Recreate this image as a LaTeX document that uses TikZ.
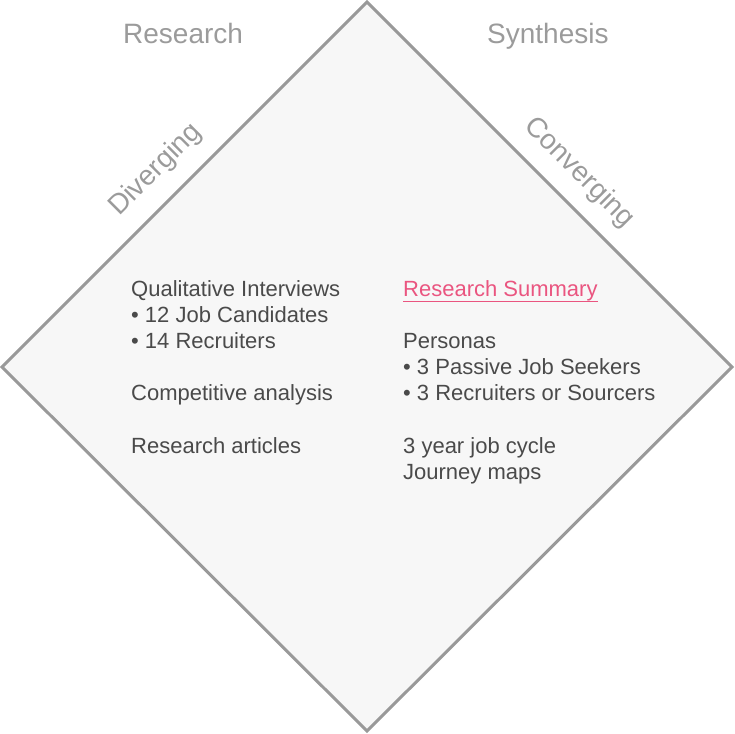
\documentclass[tikz,border=0pt]{standalone}
\usepackage{fontspec}
\setmainfont{Liberation Sans}
\definecolor{edgegray}{HTML}{999999}
\definecolor{diamondfill}{HTML}{F7F7F7}
\definecolor{titlegray}{HTML}{9B9B9B}
\definecolor{bodygray}{HTML}{4A4A4A}
\definecolor{summarypink}{HTML}{EA5580}
\begin{document}
\begin{tikzpicture}[x=1pt,y=-1pt,
	phase/.style={text=titlegray,font=\fontsize{28}{32}\selectfont,inner sep=0pt},
	item/.style={text=bodygray,font=\fontsize{22}{26}\selectfont,anchor=base west,inner sep=0pt}]
	\useasboundingbox (0,0) rectangle (734,734);
	% diamond
	\coordinate (top) at (367,2);
	\coordinate (right) at (732,367);
	\coordinate (bottom) at (367,731);
	\coordinate (left) at (2,367);
	\filldraw[fill=diamondfill,draw=edgegray,line width=3pt] (top) -- (right) -- (bottom) -- (left) -- cycle;
	% phases
	\node[phase,anchor=base west] (research) at (123,43) {Research};
	\node[phase,anchor=base west] (synthesis) at (487,43) {Synthesis};
	\node[phase,rotate=45] (diverging) at (156,170) {Diverging};
	\node[phase,rotate=-45] (converging) at (579,173) {Converging};
	% left column
	\foreach \y/\txt [count=\i] in {296/Qualitative Interviews,322.2/• 12 Job Candidates,348.4/• 14 Recruiters,400.8/Competitive analysis,453.2/Research articles}
	{
		\node[item] (left\i) at (131,\y) {\txt};
	}
	% right column
	\node[item,text=summarypink] (summary) at (403,296) {Research Summary};
	\draw[summarypink,line width=1.2pt] ([yshift=-1pt]summary.south west) -- ([yshift=-1pt]summary.south east);
	\foreach \y/\txt [count=\i] in {348.4/Personas,374.6/• 3 Passive Job Seekers,400.8/• 3 Recruiters or Sourcers,453.2/3 year job cycle,479.4/Journey maps}
	{
		\node[item] (right\i) at (403,\y) {\txt};
	}
\end{tikzpicture}
\end{document}
